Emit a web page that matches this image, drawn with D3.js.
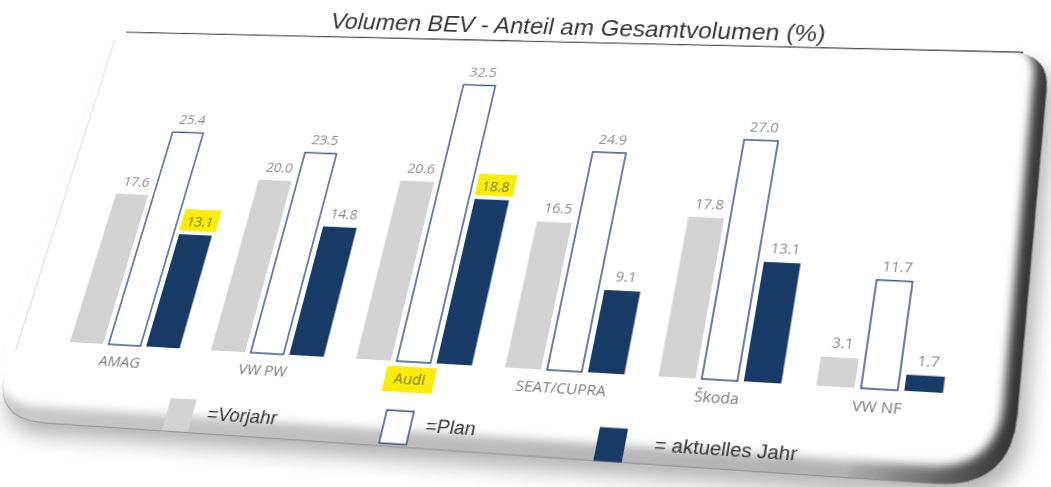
<!DOCTYPE html>
<html>
<head>
<meta charset="utf-8">
<script src="https://cdn.jsdelivr.net/npm/d3@7"></script>
<style>
  html, body { margin: 0; padding: 0; background: #fff; overflow: hidden; }
  #plane { position: absolute; left: 0; top: 0; width: 1150px; height: 620px; transform-origin: 0 0; }
  #plane svg { overflow: visible; position: absolute; left: 0; top: 0; }
</style>
</head>
<body>
<div id="plane"></div>
<script>
// chart data
const title = "Volumen BEV - Anteil am Gesamtvolumen (%)";
const categories = ["AMAG", "VW PW", "Audi", "SEAT/CUPRA", "Škoda", "VW NF"];
const series = ["vorjahr", "plan", "aktuell"];
const vorjahr = [17.6, 20.0, 20.6, 16.5, 17.8, 3.1];
const plan    = [25.4, 23.5, 32.5, 24.9, 27.0, 11.7];
const aktuell = [13.1, 14.8, 18.8, 9.1, 13.1, 1.7];
const legendLabels = ["=Vorjahr", "=Plan", "= aktuelles Jahr"];
const markedValues = [["AMAG", "aktuell"], ["Audi", "aktuell"]];  // yellow marker
const markedCategories = ["Audi"];

const colors = {vorjahr: "#d3d3d3", plan: "#ffffff", aktuell: "#173a66"};

const data = categories.map((c, i) => ({
  cat: c,
  values: [
    {cat: c, key: "vorjahr", v: vorjahr[i]},
    {cat: c, key: "plan", v: plan[i]},
    {cat: c, key: "aktuell", v: aktuell[i]}
  ]
}));

// flat chart, drawn upright, then the whole plane is tilted like the photo
const x = d3.scaleBand().domain(categories).range([100, 1000]).paddingInner(0.22).paddingOuter(0.11);
const xi = d3.scaleBand().domain(series).range([0, x.bandwidth()]).paddingInner(0.13);
const y = d3.scaleLinear().domain([0, 35]).range([450, 450 - 35 * 9]);

// 4 point homography (flat -> photo)
function fitH(src, dst) {
  const A = [], b = [];
  for (let i = 0; i < 4; i++) {
    const [px, py] = src[i], [u, v] = dst[i];
    A.push([px, py, 1, 0, 0, 0, -u * px, -u * py]); b.push(u);
    A.push([0, 0, 0, px, py, 1, -v * px, -v * py]); b.push(v);
  }
  for (let c = 0; c < 8; c++) {
    let p = c;
    for (let r = c + 1; r < 8; r++) if (Math.abs(A[r][c]) > Math.abs(A[p][c])) p = r;
    [A[c], A[p]] = [A[p], A[c]]; [b[c], b[p]] = [b[p], b[c]];
    for (let r = 0; r < 8; r++) {
      if (r === c) continue;
      const f = A[r][c] / A[c][c];
      for (let k = c; k < 8; k++) A[r][k] -= f * A[c][k];
      b[r] -= f * b[c];
    }
  }
  return b.map((v, i) => v / A[i][i]);
}
function applyH(h, [px, py]) {
  const w = h[6] * px + h[7] * py + 1;
  return [(h[0] * px + h[1] * py + h[2]) / w, (h[3] * px + h[4] * py + h[5]) / w];
}

const flatPts = [
  [x("AMAG") + xi("vorjahr"), y(0)],
  [x("VW NF") + xi("aktuell") + xi.bandwidth(), y(0)],
  [x("AMAG") + xi("plan"), y(plan[0])],
  [x("Škoda") + xi("plan") + xi.bandwidth(), y(plan[4])]
];
const photoPts = [[70, 342], [943, 393], [172, 132], [779, 141]];
const H = fitH(flatPts, photoPts);
const Hinv = fitH(photoPts, flatPts);
const toFlat = p => applyH(Hinv, p);

d3.select("#plane").style("transform",
  `matrix3d(${H[0]},${H[3]},0,${H[6]},${H[1]},${H[4]},0,${H[7]},0,0,1,0,${H[2]},${H[5]},0,1)`);

const svg = d3.select("#plane").append("svg")
  .attr("width", 1150).attr("height", 620);

const defs = svg.append("defs");
const sh = defs.append("filter").attr("id", "shadow")
  .attr("x", "-20%").attr("y", "-20%").attr("width", "150%").attr("height", "160%");
sh.append("feGaussianBlur").attr("in", "SourceAlpha").attr("stdDeviation", 10);
sh.append("feOffset").attr("dx", 8).attr("dy", 12).attr("result", "b");
sh.append("feComponentTransfer").append("feFuncA").attr("type", "linear").attr("slope", 0.3);
defs.append("filter").attr("id", "faceblur")
  .attr("x", "-5%").attr("y", "-5%").attr("width", "110%").attr("height", "110%")
  .append("feGaussianBlur").attr("stdDeviation", 4.5);
const rimGrad = defs.append("linearGradient").attr("id", "rimGrad")
  .attr("x1", 0).attr("y1", 0).attr("x2", 1).attr("y2", 0);
[[0, "#cacaca"], [0.85, "#b2b2b2"], [0.95, "#5a5a5a"], [1, "#333"]].forEach(([o, c]) =>
  rimGrad.append("stop").attr("offset", o).attr("stop-color", c));

// card outline (outer edge as seen in the photo, mapped back to the flat plane)
const card = [[119, 32], [1050, 53], [1011, 489], [-12, 419]].map(toFlat);
const radii = [14, 40, 68, 60];
function roundedPath(pts, rs) {
  const n = pts.length, path = d3.path();
  const toward = (a, b, r) => {
    const dx = b[0] - a[0], dy = b[1] - a[1], l = Math.hypot(dx, dy);
    return [a[0] + dx / l * r, a[1] + dy / l * r];
  };
  for (let i = 0; i < n; i++) {
    const c = pts[i], prev = pts[(i + n - 1) % n], next = pts[(i + 1) % n];
    const a = toward(c, prev, rs[i]), b = toward(c, next, rs[i]);
    if (i === 0) path.moveTo(a[0], a[1]); else path.lineTo(a[0], a[1]);
    path.quadraticCurveTo(c[0], c[1], b[0], b[1]);
  }
  path.closePath();
  return path.toString();
}
const cardD = roundedPath(card, radii);
// white face, set back from the right and bottom rim
const inset = [[-10, -10], [-14, -10], [-14, -16], [-12, -16]];
const face = card.map((p, i) => [p[0] + inset[i][0], p[1] + inset[i][1]]);
const faceD = roundedPath(face, [14, 36, 62, 60]);

svg.append("path").attr("d", cardD).attr("fill", "#000").attr("filter", "url(#shadow)");
svg.append("path").attr("d", cardD).attr("fill", "url(#rimGrad)")
  .attr("stroke", "#8a8a8a").attr("stroke-width", 0.8);
svg.append("path").attr("d", faceD).attr("fill", "#fff").attr("filter", "url(#faceblur)");
// left edge (thin light line) and top edge (dark line)
svg.append("line")
  .attr("x1", card[0][0] - 2).attr("y1", card[0][1] + 10)
  .attr("x2", card[3][0] + 6).attr("y2", card[3][1] - 70)
  .attr("stroke", "#d0d0d0").attr("stroke-width", 0.8);
svg.append("line")
  .attr("x1", card[0][0] + 8).attr("y1", card[0][1])
  .attr("x2", card[1][0] - 26).attr("y2", card[1][1])
  .attr("stroke", "#4a4a4a").attr("stroke-width", 1.3);

// title
const tPos = toFlat([571, 35]);
svg.append("text")
  .attr("x", tPos[0]).attr("y", tPos[1])
  .attr("text-anchor", "middle")
  .style("font-family", "'Liberation Sans', Arial, sans-serif")
  .style("font-size", "25.5px")
  .style("fill", "#383838")
  .text(title);

// bars
const group = svg.selectAll(".grp")
  .data(data)
  .join("g")
  .attr("class", "grp")
  .attr("transform", d => `translate(${x(d.cat)},0)`);

group.selectAll("rect.bar")
  .data(d => d.values)
  .join("rect")
  .attr("class", "bar")
  .attr("x", d => xi(d.key) + (d.key === "plan" ? 0.75 : 0))
  .attr("width", d => xi.bandwidth() - (d.key === "plan" ? 1.5 : 0))
  .attr("y", d => y(d.v))
  .attr("height", d => y(0) - y(d.v))
  .attr("fill", d => colors[d.key])
  .attr("stroke", d => d.key === "plan" ? "#3b5682" : "none")
  .attr("stroke-width", 1.5);

const isMarked = d => markedValues.some(m => m[0] === d.cat && m[1] === d.key);

group.selectAll("rect.mark")
  .data(d => d.values.filter(isMarked))
  .join("rect")
  .attr("class", "mark")
  .attr("x", d => xi(d.key) - 1)
  .attr("width", xi.bandwidth() + 4)
  .attr("y", d => y(d.v) - 27)
  .attr("height", 23)
  .attr("fill", "#fbec0a");

group.selectAll("text.val")
  .data(d => d.values)
  .join("text")
  .attr("class", "val")
  .attr("x", d => xi(d.key) + xi.bandwidth() / 2 + 1)
  .attr("y", d => y(d.v) - 9)
  .attr("text-anchor", "middle")
  .style("font-family", "'Open Sans', sans-serif")
  .style("font-size", "14.5px")
  .style("fill", d => isMarked(d) ? "#7d7a3a" : "#8a8a8a")
  .text(d => d3.format(".1f")(d.v));

// category labels
const catLab = group.append("g")
  .attr("transform", `translate(${x.bandwidth() / 2},${y(0) + 22})`);
catLab.filter(d => markedCategories.includes(d.cat))
  .append("rect")
  .attr("x", -25).attr("y", -17)
  .attr("width", 50).attr("height", 25)
  .attr("fill", "#fbec0a");
catLab.append("text")
  .attr("text-anchor", "middle")
  .style("font-family", "'Open Sans', sans-serif")
  .style("font-size", "15px")
  .style("fill", d => markedCategories.includes(d.cat) ? "#7d7a3a" : "#7a7a7a")
  .text(d => d.cat);

// legend (square anchors)
const legendSquares = [[171, 398], [387, 410], [600, 427]].map(toFlat);
const legend = svg.selectAll(".leg")
  .data(series)
  .join("g")
  .attr("class", "leg")
  .attr("transform", (d, i) => `translate(${legendSquares[i][0]},${legendSquares[i][1]})`);
legend.append("rect")
  .attr("width", 27).attr("height", 32)
  .attr("fill", d => colors[d])
  .attr("stroke", d => d === "plan" ? "#3b5682" : "none")
  .attr("stroke-width", 1.5);
legend.append("text")
  .attr("x", (d, i) => i === 2 ? 55 : 42)
  .attr("y", 19)
  .style("font-family", "'Liberation Sans', Arial, sans-serif")
  .style("font-size", "19px")
  .style("fill", "#333")
  .text((d, i) => legendLabels[i]);
</script>
</body>
</html>
